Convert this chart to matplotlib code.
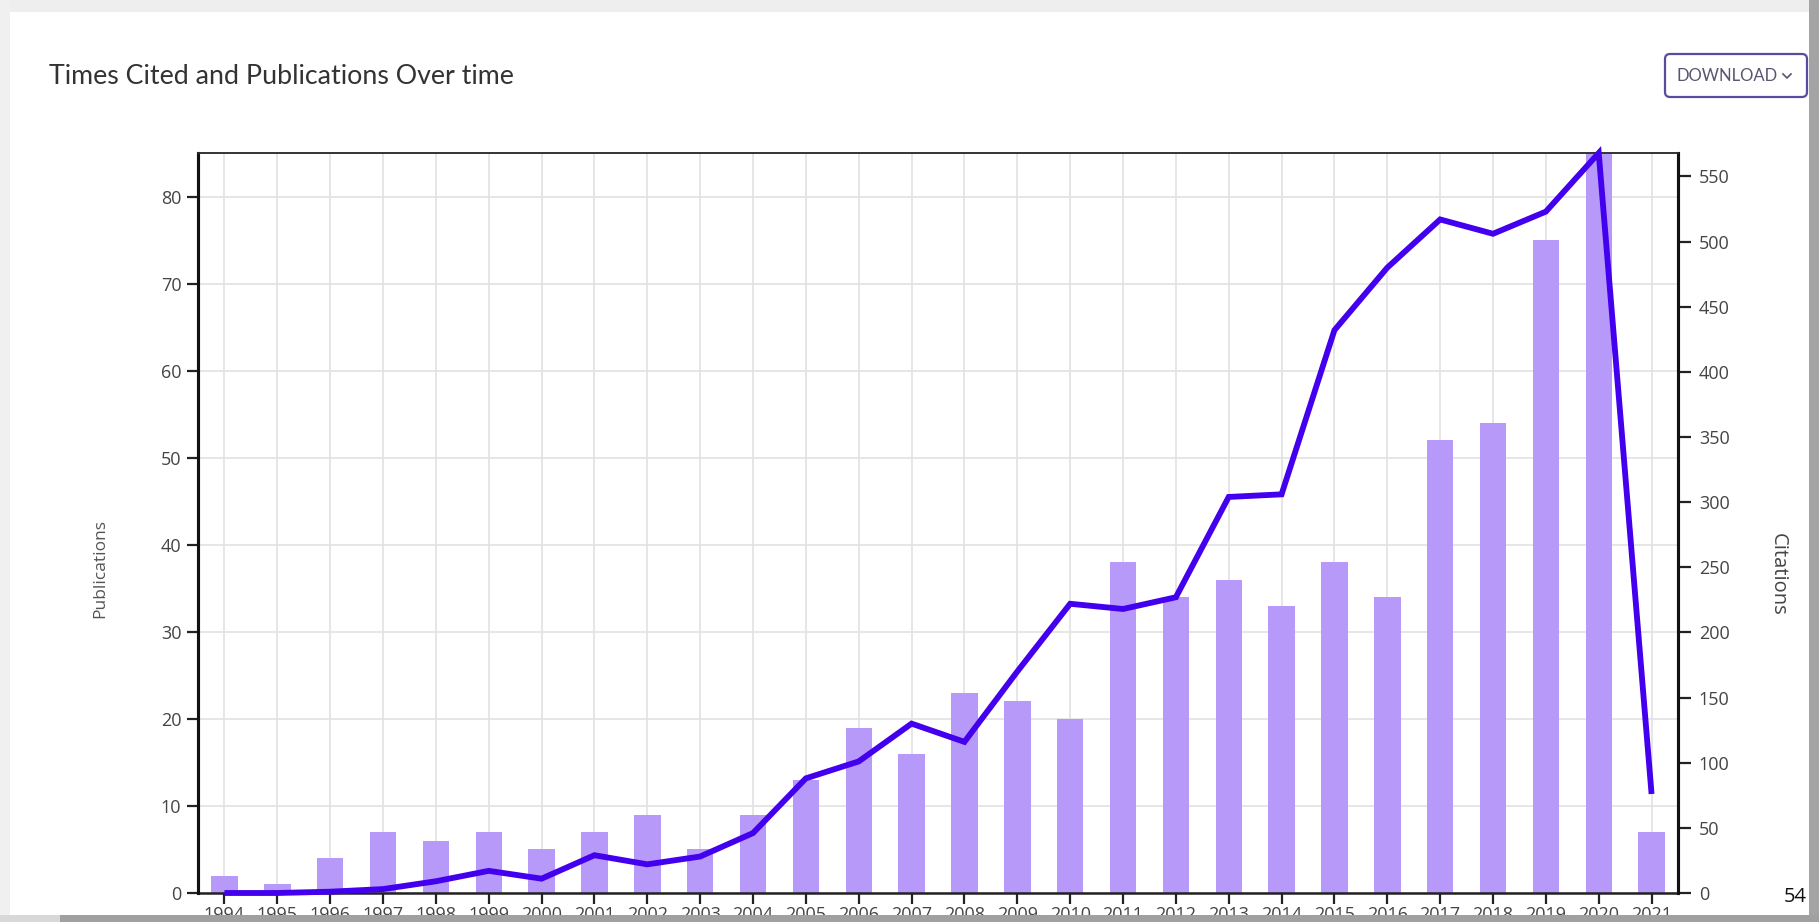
import numpy as np
import matplotlib
matplotlib.use("Agg")
import matplotlib.pyplot as plt
from matplotlib.patches import Rectangle, FancyBboxPatch
from matplotlib.lines import Line2D
from matplotlib.transforms import IdentityTransform

# Yearly counts
years = [str(y) for y in range(1994, 2022)]
publications = [2, 1, 4, 7, 6, 7, 5, 7, 9, 5, 9, 13, 19, 16, 23, 22, 20,
                38, 34, 36, 33, 38, 34, 52, 54, 75, 85, 7]
citations = [0, 0, 1, 3, 9, 17, 11, 29, 22, 28, 46, 88, 101, 130, 116, 170,
             222, 218, 227, 304, 306, 432, 480, 517, 506, 523, 568, 76]
pub_ticks = [0, 10, 20, 30, 40, 50, 60, 70, 80]
cit_ticks = [0, 50, 100, 150, 200, 250, 300, 350, 400, 450, 500, 550]

W, H = 1819, 922
plt.rcParams["font.family"] = ["Open Sans", "DejaVu Sans"]

fig = plt.figure(figsize=(W / 100, H / 100), dpi=100)
fig.patch.set_facecolor("white")

def fx(px):
    return px / W

def fy(py):
    return 1 - py / H

ax = fig.add_axes([fx(198), fy(893), fx(1678) - fx(198), fy(153) - fy(893)])
ax2 = ax.twinx()

x = np.arange(len(years))
bar_color = "#B799FA"
line_color = "#4200EE"

ax.set_axisbelow(True)
ax.bar(x, publications, width=0.5, color=bar_color, zorder=2)
ax2.plot(x, citations, color=line_color, lw=4.2, solid_joinstyle="miter",
         solid_capstyle="butt", clip_on=False, zorder=3)

ax.set_xlim(-0.5, len(years) - 0.5)
ax.set_ylim(0, max(publications))
ax2.set_ylim(0, max(citations))

ax.set_xticks(x)
ax.set_xticklabels(years)
ax.set_yticks(pub_ticks)
ax2.set_yticks(cit_ticks)

grid_kw = dict(color="#E2E2E2", lw=1.2)
ax.grid(True, axis="both", **grid_kw)

for a in (ax, ax2):
    a.tick_params(axis="both", direction="out", length=8, width=1.6,
                  color="#222222", labelcolor="#444444", labelsize=13, pad=4)
    a.spines["bottom"].set_visible(False)
    a.spines["top"].set_linewidth(1.2)
    a.spines["top"].set_color("#333333")
    a.spines["left"].set_linewidth(2.2)
    a.spines["right"].set_linewidth(2.2)
    a.spines["left"].set_color("#111111")
    a.spines["right"].set_color("#111111")
ax.tick_params(axis="x", length=8, pad=1.5)
ax2.tick_params(axis="y", length=9, pad=6)

# baseline along zero
ax.axhline(0, color="#222222", lw=1.8, zorder=4, clip_on=False)

fig.text(fx(100), fy(568), "Publications", rotation=90, ha="center",
         va="center", fontsize=12.5, color="#555555")
fig.text(fx(1778), fy(574), "Citations", rotation=-90, ha="center",
         va="center", fontsize=14.5, color="#444444")

# header
fig.text(fx(49), fy(77), "Times Cited and Publications Over time",
         fontsize=19.3, color="#333333", va="center", ha="left",
         family=["Lato", "DejaVu Sans"])

# download button
btn = FancyBboxPatch((1665, H - 97), 142, 43,
                     boxstyle="round,pad=0,rounding_size=5",
                     transform=IdentityTransform(), facecolor="white",
                     edgecolor="#574C9E", lw=1.6, zorder=5)
fig.patches.append(btn)
fig.text(fx(1676), fy(76), "DOWNLOAD", fontsize=12, color="#595470",
         va="center", ha="left", family=["Lato", "DejaVu Sans"], zorder=6)
chev = Line2D([fx(1783), fx(1787), fx(1791)], [fy(74), fy(78), fy(74)],
              transform=fig.transFigure, color="#595470", lw=1.2, zorder=6)
fig.lines.append(chev)

# surrounding page frame
frame = [
    ((0, H - 12), W, 12, "#EEEEEE"),
    ((0, 0), 10, H, "#F0F0F0"),
    ((1809, 0), 10, H, "#A4A4A4"),
    ((0, 0), W, 7, "#A0A0A0"),
    ((0, 0), 60, 7, "#D8D8D8"),
]
for (xy, w, h, c) in frame:
    fig.patches.append(Rectangle(xy, w, h, transform=IdentityTransform(),
                                 facecolor=c, edgecolor="none", zorder=10))

fig.text(fx(1807), fy(897), "54", fontsize=14.5, color="#111111",
         ha="right", va="center", zorder=11)

fig.savefig("out.png", dpi=100)
